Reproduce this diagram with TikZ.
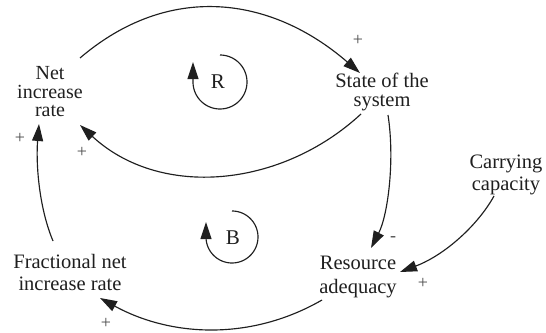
\documentclass[tikz,border=0pt]{standalone}
\usepackage{fontspec}
\setmainfont{Liberation Serif}
\usetikzlibrary{arrows.meta}
\begin{document}
\begin{tikzpicture}[x=1pt,y=-1pt,
  lbl/.style={inner sep=0pt,align=center,text=black!88},
  sgn/.style={inner sep=0pt,font=\fontsize{18}{18}\selectfont,text=black!70},
  conn/.style={line width=1.15pt,draw=black!88,-{Triangle[length=17pt,width=11pt]}},
  loopc/.style={line width=1.15pt,draw=black!88,-{Triangle[length=17pt,width=11pt]}}]
\useasboundingbox (0,0) rectangle (546,332);
% nodes
\node[lbl,font=\fontsize{20}{18.5}\selectfont] (net) at (50,92) {Net\\increase\\rate};
\node[lbl,font=\fontsize{20.5}{19.5}\selectfont] (state) at (382,92) {State of the\\system};
\node[lbl,font=\fontsize{20.5}{22}\selectfont] (carry) at (506,175) {Carrying\\capacity};
\node[lbl,font=\fontsize{20.5}{24}\selectfont] (res) at (358,277) {Resource\\adequacy};
\node[lbl,font=\fontsize{20.5}{22}\selectfont] (frac) at (70,272) {Fractional net\\increase rate};
\node[lbl,font=\fontsize{21}{21}\selectfont] (R) at (218,82) {R};
\node[lbl,font=\fontsize{21}{21}\selectfont] (B) at (233,238) {B};
% connectors
\draw[conn] ([shift={(30,-34)}]net.center) .. controls (169,-18) and (271,-4) .. ([shift={(-22,-19)}]state.center);
\draw[conn] ([shift={(-21,22)}]state.center) .. controls (281,188) and (160,199) .. ([shift={(30,33)}]net.center);
\draw[conn] ([shift={(-17,-31)}]frac.center) .. controls (38,205) and (36,160) .. ([shift={(-11,32)}]net.center);
\draw[conn] ([shift={(-36,23)}]res.center) .. controls (251,341) and (171,337) .. ([shift={(30,26)}]frac.center);
\draw[conn] ([shift={(6,23)}]state.center) .. controls (395,160) and (388,215) .. ([shift={(13,-29)}]res.center);
\draw[conn] ([shift={(-12,21)}]carry.center) .. controls (478,225) and (445,255) .. ([shift={(42,-5)}]res.center);
% loop markers
\draw[loopc] plot[domain=90:-180,samples=60,smooth] ({220+27*cos(\x)},{82-27*sin(\x)}) -- (193,62);
\draw[loopc] plot[domain=90:-180,samples=60,smooth] ({232+26*cos(\x)},{237-26*sin(\x)}) -- (206,222);
% signs
\node[sgn] (s1) at (358,40) {+};
\node[sgn] (s2) at (82,152) {+};
\node[sgn] (s3) at (20,138) {+};
\node[sgn] (s4) at (106,323) {+};
\node[sgn] (s5) at (393,239) {-};
\node[sgn] (s6) at (423,283) {+};
\end{tikzpicture}
\end{document}
